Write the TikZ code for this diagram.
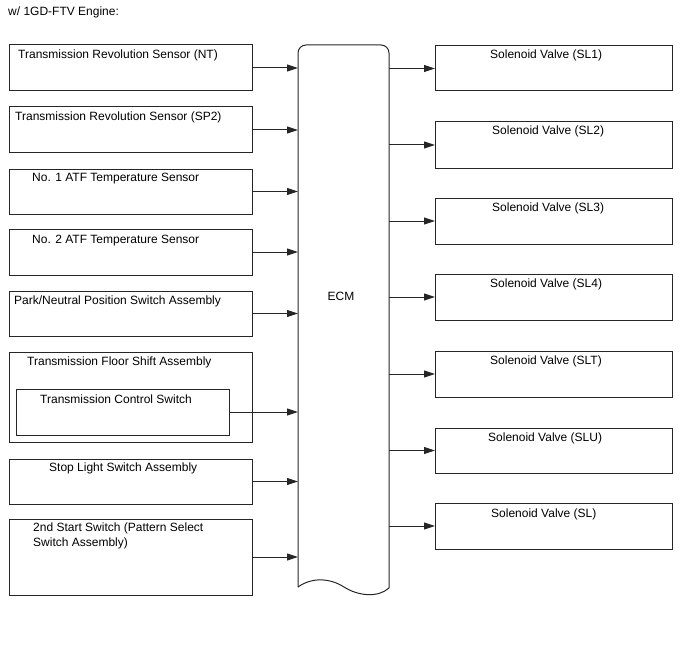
\documentclass[tikz,border=0pt]{standalone}
\usepackage{fontspec}
\setmainfont{Liberation Sans}
\usetikzlibrary{arrows.meta}
\begin{document}
\begin{tikzpicture}[x=1pt,y=-1pt,
  box/.style={draw=black!85, line width=1pt, inner sep=0pt, outer sep=0pt, anchor=north west},
  lbox/.style={box, minimum width=243pt},
  rbox/.style={box, minimum width=237pt},
  txt/.style={anchor=base west, inner sep=0pt, font=\fontsize{12}{15}\selectfont, text=black},
  arr/.style={draw=black!85, line width=1pt, -{Triangle[length=11pt,width=7pt]}}
]
\useasboundingbox (0,0) rectangle (688,658);
\node[txt] (title) at (8,16) {w/ 1GD-FTV Engine:};

% left boxes
\node[lbox, minimum height=46pt] (b1) at (9,45) {};
\node[lbox, minimum height=46pt] (b2) at (9,107) {};
\node[lbox, minimum height=45pt] (b3) at (9,169) {};
\node[lbox, minimum height=46pt] (b4) at (9,229) {};
\node[lbox, minimum height=45pt] (b5) at (9,291) {};
\node[lbox, minimum height=90pt] (b6) at (9,352) {};
\node[box, minimum width=213pt, minimum height=46pt] (b6i) at (16,389) {};
\node[lbox, minimum height=45pt] (b7) at (9,459) {};
\node[lbox, minimum height=76pt] (b8) at (9,519) {};

\node[txt] (t1) at (18,59) {Transmission Revolution Sensor (NT)};
\node[txt] (t2) at (15,121) {Transmission Revolution Sensor (SP2)};
\node[txt] (t3) at (32,182) {No. 1 ATF Temperature Sensor};
\node[txt] (t4) at (32,243) {No. 2 ATF Temperature Sensor};
\node[txt] (t5) at (14,304) {Park/Neutral Position Switch Assembly};
\node[txt] (t6) at (27,365) {Transmission Floor Shift Assembly};
\node[txt] (t6i) at (40,403) {Transmission Control Switch};
\node[txt] (t7) at (49,471) {Stop Light Switch Assembly};
\node[txt] (t8a) at (33,531) {2nd Start Switch (Pattern Select};
\node[txt] (t8b) at (33,546) {Switch Assembly)};

% ECM
\node[inner sep=0pt, outer sep=0pt, anchor=north west, minimum width=91pt, minimum height=550pt] (ecm) at (298,45) {};
\draw[draw=black!85, line width=1pt, rounded corners=8pt] (298,587) -- (298,45) -- (389,45) -- (389,588);
\draw[draw=black!85, line width=1pt] (298,587) .. controls (312,577) and (330,578) .. (344,587) .. controls (358,596) and (378,598) .. (389,588);
\node[txt, anchor=base] (ecmt) at (341,300) {ECM};

% right boxes
\node[rbox, minimum height=45pt] (s1) at (435,46) {};
\node[rbox, minimum height=46pt] (s2) at (435,122) {};
\node[rbox, minimum height=46pt] (s3) at (435,198) {};
\node[rbox, minimum height=46pt] (s4) at (435,274) {};
\node[rbox, minimum height=46pt] (s5) at (435,351) {};
\node[rbox, minimum height=45pt] (s6) at (435,428) {};
\node[rbox, minimum height=46pt] (s7) at (435,503) {};

\node[txt] (u1) at (490,59) {Solenoid Valve (SL1)};
\node[txt] (u2) at (492,135) {Solenoid Valve (SL2)};
\node[txt] (u3) at (492,211) {Solenoid Valve (SL3)};
\node[txt] (u4) at (490,287) {Solenoid Valve (SL4)};
\node[txt] (u5) at (490,364) {Solenoid Valve (SLT)};
\node[txt] (u6) at (488,441) {Solenoid Valve (SLU)};
\node[txt] (u7) at (491,517) {Solenoid Valve (SL)};

% arrows in
\foreach \b in {b1,b2,b3,b4,b5,b6i,b7,b8}
  \draw[arr] (\b.east) -- (\b.east -| ecm.west);
% arrows out
\foreach \s in {s1,s2,s3,s4,s5,s6,s7}
  \draw[arr] (\s.west -| ecm.east) -- (\s.west);
\end{tikzpicture}
\end{document}
